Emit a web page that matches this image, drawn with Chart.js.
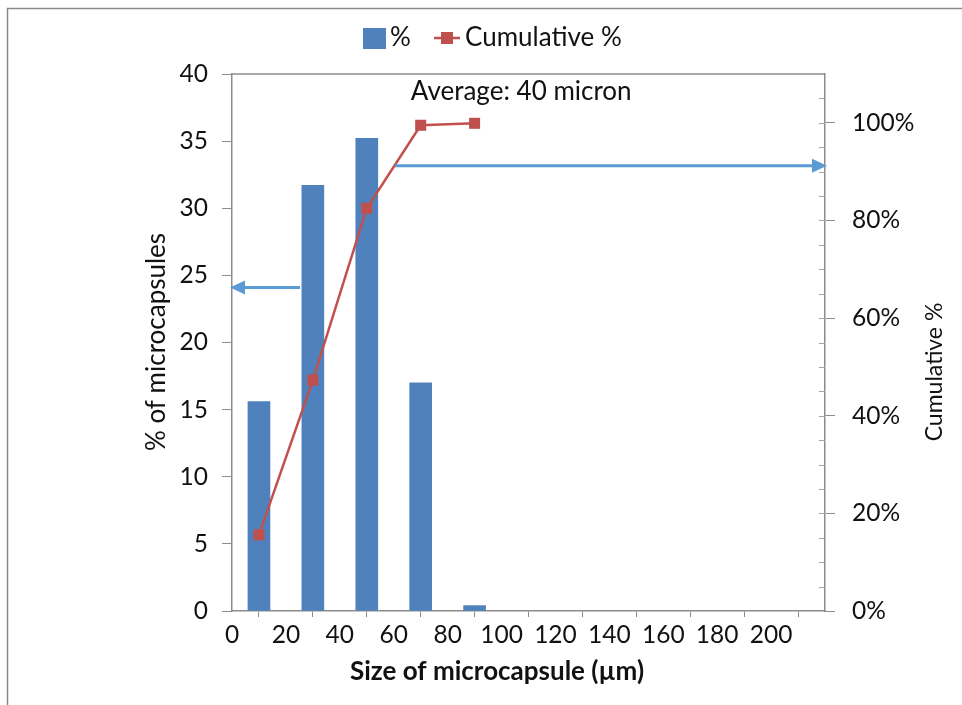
<!DOCTYPE html>
<html>
<head>
<meta charset="utf-8">
<style>
  html, body { margin: 0; padding: 0; background: #fff; }
  #wrap { width: 962px; height: 705px; position: relative; }
</style>
<script src="https://cdn.jsdelivr.net/npm/chart.js@4.4.1/dist/chart.umd.min.js"></script>
</head>
<body>
<div id="wrap"><canvas id="chart" width="962" height="705"></canvas></div>
<script>
// Particle size classes (µm, class centres) and measured distribution
const sizes = [10, 30, 50, 70, 90];
const percentValues = [15.6, 31.7, 35.2, 17.0, 0.4];
const cumulativeValues = [15.6, 47.3, 82.5, 99.5, 99.9];

// Axis ranges
const xRange = [0, 220];
const xStep = 20;
const leftRange = [0, 40];
const leftStep = 5;
const rightRange = [0, 110];
const rightStep = 20;
const rightMinorStep = 5;
const rightLabelMax = 100;
const xLabelMax = 200;

// Guide arrows: [xStart, xEnd, value] in axis units
const leftArrow = [25.2, 0, 24.1];     // points to the left axis
const rightArrow = [60.5, 220, 91.2];  // points to the right axis
const averageNote = 'Average: 40 micron';

const FONT = 'Lato, "Open Sans", sans-serif';
const AXIS_GREY = '#8c8c8c';
const BAR_BLUE = '#4f81bd';
const LINE_RED = '#c0504d';
const ARROW_BLUE = '#5b9bd5';
const TEXT = '#111';

function drawArrow(ctx, x1, y, x2) {
  const dir = Math.sign(x2 - x1);
  const head = 15, half = 7;
  ctx.save();
  ctx.strokeStyle = ARROW_BLUE;
  ctx.fillStyle = ARROW_BLUE;
  ctx.lineWidth = 3;
  ctx.beginPath();
  ctx.moveTo(x1, y);
  ctx.lineTo(x2 - dir * head, y);
  ctx.stroke();
  ctx.beginPath();
  ctx.moveTo(x2, y);
  ctx.lineTo(x2 - dir * head, y - half);
  ctx.lineTo(x2 - dir * head, y + half);
  ctx.closePath();
  ctx.fill();
  ctx.restore();
}

const decorations = {
  id: 'decorations',
  beforeDraw(chart) {
    const ctx = chart.ctx;
    ctx.save();
    ctx.fillStyle = '#fff';
    ctx.fillRect(0, 0, chart.width, chart.height);
    // outer chart frame
    ctx.strokeStyle = '#8a8a8a';
    ctx.lineWidth = 1.5;
    ctx.strokeRect(7.5, 8.5, chart.width + 20, chart.height + 20);
    ctx.restore();
  },
  afterDatasetsDraw(chart) {
    const ctx = chart.ctx;
    const { x, y, y1 } = chart.scales;
    const area = chart.chartArea;
    ctx.save();
    // top edge of plot area
    ctx.strokeStyle = AXIS_GREY;
    ctx.lineWidth = 1.5;
    ctx.beginPath();
    ctx.moveTo(area.left, area.top);
    ctx.lineTo(area.right, area.top);
    ctx.stroke();
    // inner minor ticks on the right axis
    ctx.lineWidth = 1;
    ctx.strokeStyle = '#a6a6a6';
    for (let v = rightRange[0] + rightMinorStep; v < rightRange[1]; v += rightMinorStep) {
      const py = Math.round(y1.getPixelForValue(v)) + 0.5;
      ctx.beginPath();
      ctx.moveTo(area.right - 6, py);
      ctx.lineTo(area.right, py);
      ctx.stroke();
    }
    // arrows
    drawArrow(ctx, x.getPixelForValue(leftArrow[0]), y.getPixelForValue(leftArrow[2]), x.getPixelForValue(leftArrow[1]) - 2);
    drawArrow(ctx, x.getPixelForValue(rightArrow[0]), y1.getPixelForValue(rightArrow[2]), x.getPixelForValue(rightArrow[1]) + 2);
    // note
    ctx.fillStyle = TEXT;
    ctx.font = '26px ' + FONT;
    ctx.textAlign = 'center';
    ctx.textBaseline = 'middle';
    ctx.fillText(averageNote, x.getPixelForValue(107.3), y.getPixelForValue(38.7));
    ctx.restore();
  },
  afterDraw(chart) {
    const ctx = chart.ctx;
    ctx.save();
    ctx.fillStyle = TEXT;
    ctx.textBaseline = 'middle';
    // axis titles
    ctx.textAlign = 'center';
    ctx.font = '26px ' + FONT;
    ctx.save();
    ctx.translate(157, 342);
    ctx.rotate(-Math.PI / 2);
    ctx.fillText('% of microcapsules', 0, 0);
    ctx.restore();
    ctx.font = '23px ' + FONT;
    ctx.save();
    ctx.translate(935, 372);
    ctx.rotate(-Math.PI / 2);
    ctx.fillText('Cumulative %', 0, 0);
    ctx.restore();
    ctx.font = 'bold 26px ' + FONT;
    ctx.fillText('Size of microcapsule (µm)', 497, 672);
    // legend
    const ly = 38;
    ctx.fillStyle = BAR_BLUE;
    ctx.fillRect(363, 28, 23, 21);
    ctx.fillStyle = TEXT;
    ctx.font = '26px ' + FONT;
    ctx.textAlign = 'left';
    ctx.fillText('%', 390, ly);
    ctx.strokeStyle = LINE_RED;
    ctx.lineWidth = 2.5;
    ctx.beginPath();
    ctx.moveTo(434, ly);
    ctx.lineTo(460, ly);
    ctx.stroke();
    ctx.fillStyle = LINE_RED;
    ctx.fillRect(441, ly - 6, 12, 12);
    ctx.fillStyle = TEXT;
    ctx.fillText('Cumulative %', 465, ly);
    ctx.restore();
  }
};

const tickFont = { family: FONT, size: 24.5 };

new Chart(document.getElementById('chart'), {
  type: 'bar',
  data: {
    datasets: [
      {
        type: 'line',
        label: 'Cumulative %',
        data: sizes.map((s, i) => ({ x: s, y: cumulativeValues[i] })),
        yAxisID: 'y1',
        borderColor: LINE_RED,
        backgroundColor: LINE_RED,
        borderWidth: 2.5,
        pointStyle: 'rect',
        pointRadius: 7.8,
        pointBorderWidth: 0,
        tension: 0,
        order: 1
      },
      {
        type: 'bar',
        label: '%',
        data: sizes.map((s, i) => ({ x: s, y: percentValues[i] })),
        yAxisID: 'y',
        backgroundColor: BAR_BLUE,
        barThickness: 22,
        order: 2
      }
    ]
  },
  options: {
    responsive: false,
    animation: false,
    layout: { padding: { top: 74, left: 0, right: 0, bottom: 0 } },
    plugins: {
      legend: { display: false },
      tooltip: { enabled: false }
    },
    scales: {
      x: {
        type: 'linear',
        offset: false,
        min: xRange[0],
        max: xRange[1],
        ticks: {
          stepSize: xStep,
          color: TEXT,
          font: tickFont,
          padding: 3,
          maxRotation: 0,
          autoSkip: false,
          callback: v => (v <= xLabelMax ? v : '')
        },
        grid: { drawOnChartArea: false, drawTicks: true, tickLength: 6, color: AXIS_GREY },
        border: { display: true, color: AXIS_GREY, width: 1.5 },
        afterFit: s => { s.height = 94; }
      },
      y: {
        position: 'left',
        min: leftRange[0],
        max: leftRange[1],
        ticks: { stepSize: leftStep, color: TEXT, font: tickFont, padding: 14 },
        grid: { drawOnChartArea: false, drawTicks: true, tickLength: 10, color: AXIS_GREY },
        border: { display: true, color: AXIS_GREY, width: 1.5 },
        afterFit: s => { s.width = 232; }
      },
      y1: {
        position: 'right',
        min: rightRange[0],
        max: rightRange[1],
        afterBuildTicks: s => { s.ticks = s.ticks.filter(t => t.value <= rightLabelMax); },
        ticks: {
          stepSize: rightStep,
          color: TEXT,
          font: tickFont,
          padding: 17,
          callback: v => v + '%'
        },
        grid: { drawOnChartArea: false, drawTicks: true, tickLength: 10, color: AXIS_GREY },
        border: { display: true, color: AXIS_GREY, width: 1.5 },
        afterFit: s => { s.width = 137; }
      }
    }
  },
  plugins: [decorations]
});
</script>
</body>
</html>
